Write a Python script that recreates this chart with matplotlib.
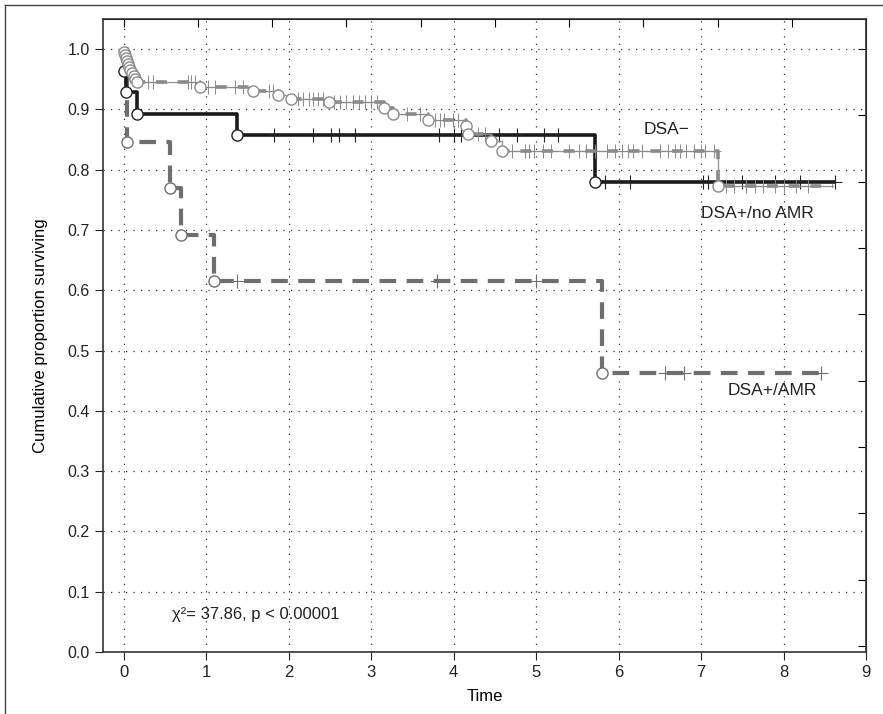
import numpy as np
import matplotlib.pyplot as plt
from matplotlib.lines import Line2D

# ---- data ----
# DSA- (light gray): event times and survival after each event
neg_t = [0.0, 0.01, 0.02, 0.03, 0.04, 0.05, 0.06, 0.08, 0.10, 0.12, 0.14, 0.16,
         0.93, 1.57, 1.87, 2.03, 2.49, 3.16, 3.27, 3.69, 4.15, 4.17, 4.45, 4.59, 7.21]
neg_s = [1.0, 0.995, 0.99, 0.985, 0.98, 0.975, 0.97, 0.965, 0.96, 0.955, 0.95, 0.945,
         0.937, 0.930, 0.924, 0.918, 0.913, 0.903, 0.892, 0.883, 0.873, 0.859, 0.847, 0.831, 0.773]
neg_end = 8.6
neg_cens = [0.29, 0.36, 0.78, 0.82, 0.86, 1.02, 1.11, 1.35, 1.45, 1.76, 1.81,
            2.12, 2.18, 2.25, 2.30, 2.36, 2.42, 2.55, 2.62, 2.70, 2.78, 2.85, 2.93, 3.00, 3.07,
            3.43, 3.59, 3.78, 3.83, 3.89, 3.99, 4.05, 4.30, 4.38,
            4.71, 4.86, 4.92, 4.98, 5.08, 5.18, 5.40, 5.52, 5.60, 5.72, 5.86, 5.96, 6.04,
            6.12, 6.18, 6.28, 6.50, 6.60, 6.68, 6.74, 6.82, 6.92, 7.00, 7.05, 7.16,
            7.30, 7.40, 7.55, 7.65, 7.75, 7.90, 8.00, 8.15, 8.30]

# DSA+/no AMR (black)
noamr_t = [0.0, 0.01, 0.03, 0.16, 1.38, 5.72]
noamr_s = [1.0, 0.964, 0.929, 0.893, 0.857, 0.779]
noamr_end = 8.62
noamr_cens = [1.82, 2.29, 2.52, 2.61, 2.80, 3.82, 4.00, 4.09, 4.55, 4.77, 5.10, 5.27,
              5.84, 6.14, 7.02, 7.08, 7.50, 7.90, 8.20, 8.62]

# DSA+/AMR (dark gray dashed)
amr_t = [0.0, 0.04, 0.56, 0.69, 1.09, 5.80]
amr_s = [1.0, 0.846, 0.769, 0.692, 0.615, 0.462]
amr_end = 8.45
amr_cens = [1.38, 3.80, 5.00, 6.56, 6.79, 8.45]

x_ticks = [0, 1, 2, 3, 4, 5, 6, 7, 8, 9]
y_ticks = [0.0, 0.1, 0.2, 0.3, 0.4, 0.5, 0.6, 0.7, 0.8, 0.9, 1.0]


def level_at(times, levels, t):
    i = np.searchsorted(times, t, side='right') - 1
    return levels[i]


def draw_curve(ax, times, levels, end, cens, color, lw, ls, edge, z):
    xs = list(times) + [end]
    ys = list(levels) + [levels[-1]]
    ax.step(xs, ys, where='post', color=color, lw=lw, linestyle=ls,
            solid_capstyle='butt', zorder=z)
    # event circles
    ax.plot(times[1:], levels[1:], 'o', ms=8, mfc='white', mec=edge, mew=1.0,
            zorder=z + 1)
    # censor marks
    cy = [level_at(times, levels, c) for c in cens]
    ax.plot(cens, cy, '+', ms=10, mew=0.8, color=edge, zorder=z + 0.5)


fig = plt.figure(figsize=(8.83, 7.14), dpi=100)
ax = fig.add_axes([103 / 883, 1 - 652 / 714, 763 / 883, 633 / 714])

narrow = ['Liberation Sans Narrow', 'Liberation Sans', 'DejaVu Sans']
reg = ['Liberation Sans', 'DejaVu Sans']

draw_curve(ax, amr_t, amr_s, amr_end, amr_cens, '#6e6e6e', 3.0, (0, (4, 2.5)), '#6e6e6e', 3)
draw_curve(ax, noamr_t, noamr_s, noamr_end, noamr_cens, '#1a1a1a', 2.6, '-', '#222222', 5)
# DSA- : thin line under a sparse thicker dash
xs = neg_t + [neg_end]
ys = neg_s + [neg_s[-1]]
ax.step(xs, ys, where='post', color='#9a9a9a', lw=1.0, zorder=7)
ax.step(xs, ys, where='post', color='#8a8a8a', lw=2.6, linestyle=(0, (3, 3)),
        solid_capstyle='butt', zorder=7)
ax.plot(neg_t[1:], neg_s[1:], 'o', ms=8, mfc='white', mec='#8a8a8a', mew=1.0, zorder=9)
ax.plot(neg_cens, [level_at(neg_t, neg_s, c) for c in neg_cens], '+', ms=10, mew=0.7,
        color='#8a8a8a', zorder=8)

ax.set_xlim(-0.25, 9)
ax.set_ylim(0, 1.05)
ax.set_xticks(x_ticks)
ax.set_yticks(y_ticks)
ax.set_xticklabels([str(v) for v in x_ticks], family=narrow, fontsize=12)
ax.set_yticklabels(['%.1f' % v for v in y_ticks], family=reg, fontsize=11.5)
ax.tick_params(direction='out', length=6, width=0.8, colors='#222222')
ax.grid(True, color='#333333', linestyle=(0, (1, 5)), lw=0.9)
ax.set_axisbelow(True)

# inward ticks on top and right
sec_x = ax.secondary_xaxis('top')
sec_x.set_xticks(np.arange(0, 9, 0.9))
sec_x.tick_params(direction='in', length=6, width=0.8, labeltop=False)
sec_y = ax.secondary_yaxis('right')
sec_y.set_yticks(np.arange(1.0, 0.0, -0.11))
sec_y.tick_params(direction='in', length=6, width=0.8, labelright=False)

for sp in ax.spines.values():
    sp.set_linewidth(1.2)
    sp.set_color('#333333')

ax.set_xlabel('Time', family=narrow, fontsize=12, labelpad=6)
ax.set_ylabel('Cumulative proportion surviving', family=narrow, fontsize=12, labelpad=14)

ax.text(6.3, 0.866, 'DSA\u2212', family=reg, fontsize=12.5, va='center', color='#222222')
ax.text(7.0, 0.727, 'DSA+/no AMR', family=reg, fontsize=12.5, va='center', color='#222222')
ax.text(7.32, 0.434, 'DSA+/AMR', family=reg, fontsize=12.5, va='center', color='#222222')
ax.text(0.59, 0.063, '\u03c7\u00b2= 37.86, p < 0.00001', family=reg, fontsize=12,
        va='center', color='#222222')

# frame of the cropped figure (left and top edges)
fig.add_artist(Line2D([5 / 883, 5 / 883], [0, 1 - 5 / 714], color='#444444', lw=1))
fig.add_artist(Line2D([5 / 883, 1], [1 - 5 / 714, 1 - 5 / 714], color='#444444', lw=1))

fig.savefig('out.png', dpi=100)
